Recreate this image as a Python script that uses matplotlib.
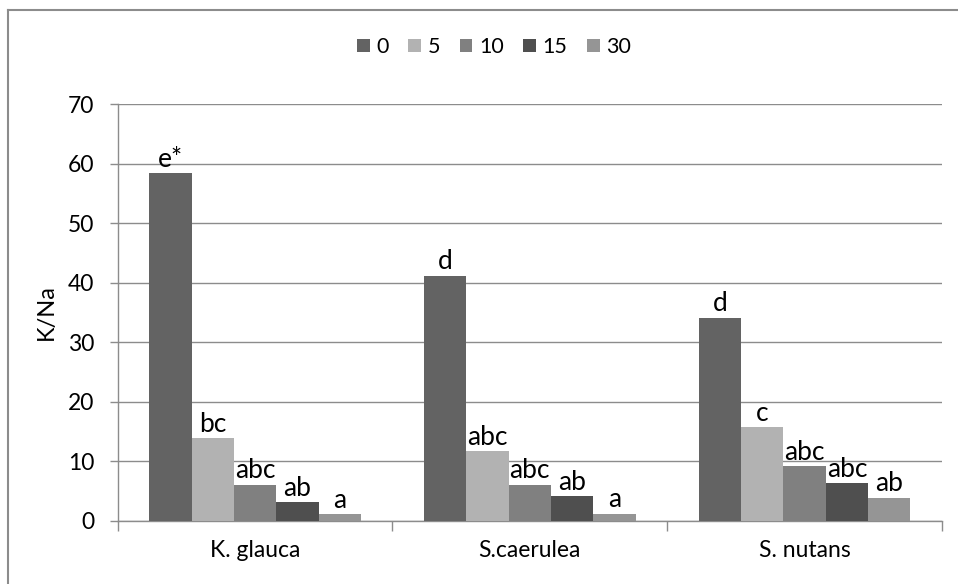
import matplotlib
matplotlib.use('Agg')
import matplotlib.pyplot as plt
import numpy as np

plt.rcParams['font.family'] = ['Lato', 'DejaVu Sans']

species = ['K. glauca', 'S.caerulea', 'S. nutans']
levels = ['0', '5', '10', '15', '30']
ratio_0 = [58.4, 41.2, 34.1]
ratio_5 = [13.9, 11.7, 15.7]
ratio_10 = [6.1, 6.1, 9.2]
ratio_15 = [3.2, 4.2, 6.3]
ratio_30 = [1.1, 1.2, 3.9]
letters_0 = ['e*', 'd', 'd']
letters_5 = ['bc', 'abc', 'c']
letters_10 = ['abc', 'abc', 'abc']
letters_15 = ['ab', 'ab', 'abc']
letters_30 = ['a', 'a', 'ab']

series = [ratio_0, ratio_5, ratio_10, ratio_15, ratio_30]
letters = [letters_0, letters_5, letters_10, letters_15, letters_30]
colors = ['#636363', '#b2b2b2', '#808080', '#4f4f4f', '#959595']

fig = plt.figure(figsize=(9.58, 5.84), dpi=100)
ax = fig.add_axes([0.1229, 0.1079, 0.8604, 0.714])

x = np.arange(len(species))
w = 0.154
for i, (vals, lab, c) in enumerate(zip(series, letters, colors)):
    pos = x + (i - 2) * w
    ax.bar(pos, vals, width=w, color=c, label=levels[i], zorder=3)
    for px_, v, t in zip(pos, vals, lab):
        ax.annotate(t, (px_, v), xytext=(0, 1), textcoords='offset points',
                    ha='center', va='bottom', fontsize=19, zorder=4)

ax.set_xlim(-0.5, 2.5)
ax.set_ylim(0, 70)
ax.set_yticks(range(0, 71, 10))
ax.yaxis.grid(True, color='#8c8c8c', linewidth=1.0, zorder=0)
ax.set_xticks(x)
ax.set_xticklabels(species, fontsize=16.5)
ax.set_xticks([-0.5, 0.5, 1.5, 2.5], minor=True)
ax.tick_params(axis='x', which='major', length=0, pad=14)
ax.tick_params(axis='x', which='minor', length=7, color='#8c8c8c', width=1.0)
ax.tick_params(axis='y', length=6, color='#8c8c8c', width=1.0, labelsize=16.5, pad=11)
for s in ['top', 'right']:
    ax.spines[s].set_visible(False)
for s in ['left', 'bottom']:
    ax.spines[s].set_color('#8c8c8c')
    ax.spines[s].set_linewidth(1.0)
ax.set_ylabel('K/Na', fontsize=17, labelpad=8)

leg = fig.legend(loc='center', bbox_to_anchor=(494 / 958, 1 - 47 / 584), ncol=5,
                 frameon=False, fontsize=15.5, handlelength=0.6, handleheight=0.6,
                 handletextpad=0.3, columnspacing=0.9)

# chart area border (left and top edges visible)
fig.add_artist(plt.Line2D([8 / 958, 8 / 958], [0, 1 - 10 / 584], color='#8c8c8c',
                          linewidth=1.5, transform=fig.transFigure))
fig.add_artist(plt.Line2D([8 / 958, 1], [1 - 10 / 584, 1 - 10 / 584], color='#8c8c8c',
                          linewidth=1.5, transform=fig.transFigure))

fig.savefig('out.png', dpi=100)
plt.close('all')
